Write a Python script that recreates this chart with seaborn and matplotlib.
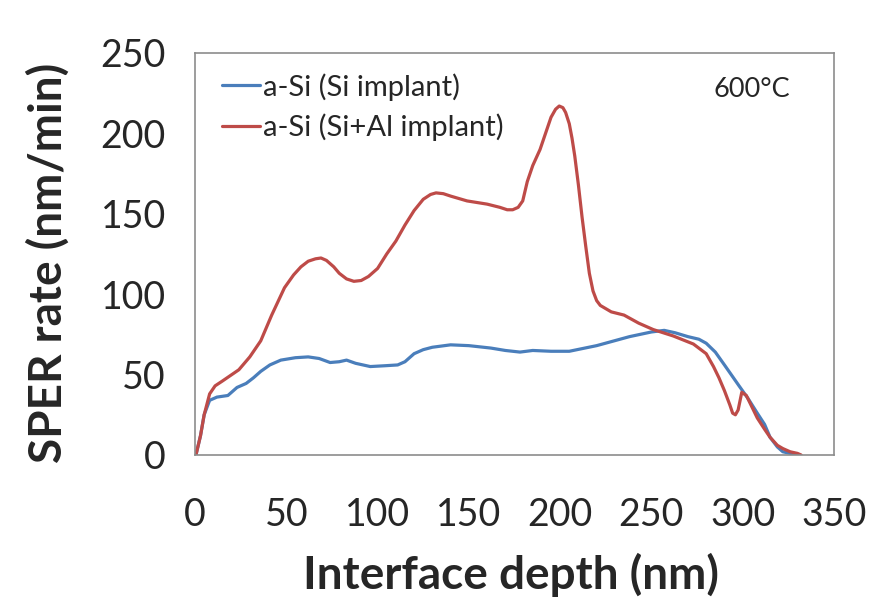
import matplotlib
matplotlib.use("Agg")
import matplotlib.pyplot as plt
import seaborn as sns
import pandas as pd

# 读取自图片的数据点 (界面深度 nm, SPER 速率 nm/min)
si_depth = [0.5, 3, 5, 8, 12, 18, 23, 28, 32, 36, 41, 47, 55, 62, 68, 74, 79, 83,
            88, 96, 104, 111, 115, 120, 125, 130, 140, 150, 162, 170, 178, 185,
            195, 205, 220, 238, 250, 257, 263, 270, 276, 280, 285, 290, 294, 298,
            303, 308, 312, 315, 319, 322, 326, 329]
si_rate = [0, 12, 25, 34, 36, 37, 42, 44.5, 48, 52, 56, 59, 60.5, 61, 60, 57.5, 58,
           59, 57, 55, 55.5, 56, 58, 63, 65.5, 67, 68.5, 68, 66.5, 65, 64, 65,
           64.5, 64.5, 68, 73.6, 76.5, 77.5, 76, 73.6, 72, 69.5, 64, 56, 49.5,
           43, 35, 26, 19, 11, 5, 2, 1, 0]

sial_depth = [0.5, 3, 5, 8, 11, 15, 24, 30, 36, 42, 49, 54, 58, 62, 66, 69, 72, 76,
              79, 83, 87, 91, 95, 100, 105, 110, 115, 120, 125, 129, 132, 136,
              140, 149, 160, 167, 171, 174, 177, 179.5, 182, 185, 189, 192, 195,
              197.5, 199.5, 201.5, 203, 205, 206.5, 208, 210, 212, 214, 216,
              218, 220, 222, 228, 235, 243, 251, 262, 273, 280, 284, 287, 290,
              293, 294.5, 296, 297.5, 299.5, 302, 305, 308, 312, 315, 319, 322,
              326, 330, 332]
sial_rate = [0, 12, 25, 38, 43, 46, 53, 61, 71, 87, 104, 112, 117, 120.5, 122, 122.5,
             121, 117, 113, 109.5, 108, 108.5, 111, 116, 125, 133, 143, 152, 159,
             162, 163, 162.5, 161, 158, 156, 154, 152.5, 152.5, 154, 158, 170,
             180, 190, 200, 210, 215, 217, 216, 213, 206, 197, 186, 168, 148,
             130, 113, 102, 96, 93, 89, 87, 82, 78, 74, 69, 63, 55, 48, 40, 31,
             26, 25, 28, 39, 37, 30, 23, 16, 11, 6, 4, 2, 1, 0]

labels = ["a-Si (Si implant)", "a-Si (Si+Al implant)"]
colors = ["#4A7EBB", "#BE4B48"]

df = pd.concat([
    pd.DataFrame({"depth": si_depth, "rate": si_rate, "sample": labels[0]}),
    pd.DataFrame({"depth": sial_depth, "rate": sial_rate, "sample": labels[1]}),
])

sns.set_style("white")
plt.rcParams["font.family"] = ["Lato", "DejaVu Sans"]

fig = plt.figure(figsize=(8.73, 6.04), dpi=100)
ax = fig.add_axes([0.2234, 0.2467, 0.7319, 0.6656])

sns.lineplot(data=df, x="depth", y="rate", hue="sample", palette=colors,
             estimator=None, sort=False, linewidth=2.3, ax=ax)

ax.set_xlim(0, 350)
ax.set_ylim(0, 250)
ax.set_xticks(range(0, 351, 50))
ax.set_yticks(range(0, 251, 50))
ax.tick_params(direction="in", length=7, width=1, color="#8c8c8c", labelsize=27)
ax.tick_params(axis="x", pad=30)
ax.tick_params(axis="y", pad=21)
for s in ax.spines.values():
    s.set_color("#8c8c8c")
    s.set_linewidth(1.2)

ax.set_xlabel("Interface depth (nm)", fontsize=33, fontweight="bold", va="center")
ax.set_ylabel("SPER rate (nm/min)", fontsize=33, fontweight="bold", va="center")
ax.xaxis.set_label_coords(0.494, -0.2985)
ax.yaxis.set_label_coords(-0.230, 0.478)

ax.legend(loc="upper left", bbox_to_anchor=(0.042, 0.95), frameon=False,
          fontsize=21, handlelength=1.3, handletextpad=0.12,
          borderaxespad=0, borderpad=0, labelspacing=0.45)
ax.text(0.872, 0.908, "600°C", transform=ax.transAxes, fontsize=19.5,
        ha="center", va="center")

fig.savefig("out.png", dpi=100)
